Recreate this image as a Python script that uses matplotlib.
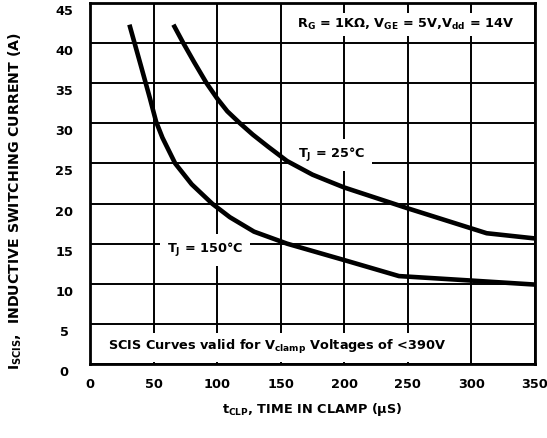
import matplotlib
matplotlib.use('Agg')
import matplotlib.pyplot as plt
from matplotlib.transforms import ScaledTranslation

plt.rcParams['font.family'] = 'DejaVu Sans'
plt.rcParams['font.weight'] = 'bold'
plt.rcParams['mathtext.fontset'] = 'custom'
plt.rcParams['mathtext.rm'] = 'DejaVu Sans:bold'
plt.rcParams['mathtext.it'] = 'DejaVu Sans:bold'
plt.rcParams['mathtext.bf'] = 'DejaVu Sans:bold'

# T_J = 25C curve
t_25 = [65.6, 73.4, 82, 91.7, 100, 108, 118, 128, 140, 155, 175, 189, 200, 250, 300, 312, 350]
i_25 = [42.3, 40.0, 37.6, 35.0, 33.1, 31.5, 30.0, 28.6, 27.1, 25.3, 23.6, 22.7, 22.0, 19.4, 16.9, 16.3, 15.65]
# T_J = 150C curve
t_150 = [31, 40, 47, 52, 57, 62, 67, 80, 96, 110, 129, 155, 189, 200, 243, 300, 350]
i_150 = [42.3, 37.2, 33.2, 30.2, 28.2, 26.6, 25.0, 22.4, 20.0, 18.3, 16.5, 15.0, 13.45, 12.95, 10.96, 10.4, 9.9]

x_ticks = [0, 50, 100, 150, 200, 250, 300, 350]
y_ticks = [0, 5, 10, 15, 20, 25, 30, 35, 40, 45]

fig = plt.figure(figsize=(5.47, 4.38), dpi=100)
ax = fig.add_axes([90/547, 1-364/438, 445/547, 361/438])

ax.plot(t_25, i_25, color='black', lw=3.3, zorder=4, solid_capstyle='butt')
ax.plot(t_150, i_150, color='black', lw=3.3, zorder=4, solid_capstyle='butt')

ax.set_xlim(0, 350)
ax.set_ylim(0, 45)
ax.set_xticks(x_ticks)
ax.set_yticks(y_ticks)
ax.grid(True, color='black', lw=1.4)
ax.set_axisbelow(True)
for s in ax.spines.values():
    s.set_linewidth(2)

ax.tick_params(axis='x', length=0, labelsize=9.3, pad=10)
ax.tick_params(axis='y', length=0, labelsize=9.3, pad=18.5)
shift = ScaledTranslation(0, -7/100, fig.dpi_scale_trans)
for lab in ax.get_yticklabels():
    lab.set_horizontalalignment('center')
    lab.set_transform(lab.get_transform() + shift)

ax.text(163, 42.3, r'R$_\mathrm{G}$ = 1KΩ, V$_\mathrm{GE}$ = 5V,V$_\mathrm{dd}$ = 14V',
        fontsize=9.3, va='center', ha='left',
        bbox=dict(facecolor='white', edgecolor='none', pad=3), zorder=3)
ax.text(163.5, 26.0, r'T$_\mathrm{J}$ = 25°C', fontsize=9.3, va='center', ha='left',
        bbox=dict(facecolor='white', edgecolor='none', pad=5), zorder=3)
ax.text(60.5, 14.2, r'T$_\mathrm{J}$ = 150°C', fontsize=9.3, va='center', ha='left',
        bbox=dict(facecolor='white', edgecolor='none', pad=5), zorder=3)
ax.text(14, 2.1, r'SCIS Curves valid for V$_\mathrm{clamp}$ Voltages of <390V',
        fontsize=9.3, va='center', ha='left',
        bbox=dict(facecolor='white', edgecolor='none', pad=4), zorder=3)

fig.text(312.5/547, 1-410/438, r't$_\mathrm{CLP}$, TIME IN CLAMP (µS)',
         fontsize=9.3, ha='center', va='center')
fig.text(15/547, 1-201/438, r'I$_\mathrm{SCIS}$,  INDUCTIVE SWITCHING CURRENT (A)',
         fontsize=10.2, ha='center', va='center', rotation=90)

fig.savefig('out.png', dpi=100)
